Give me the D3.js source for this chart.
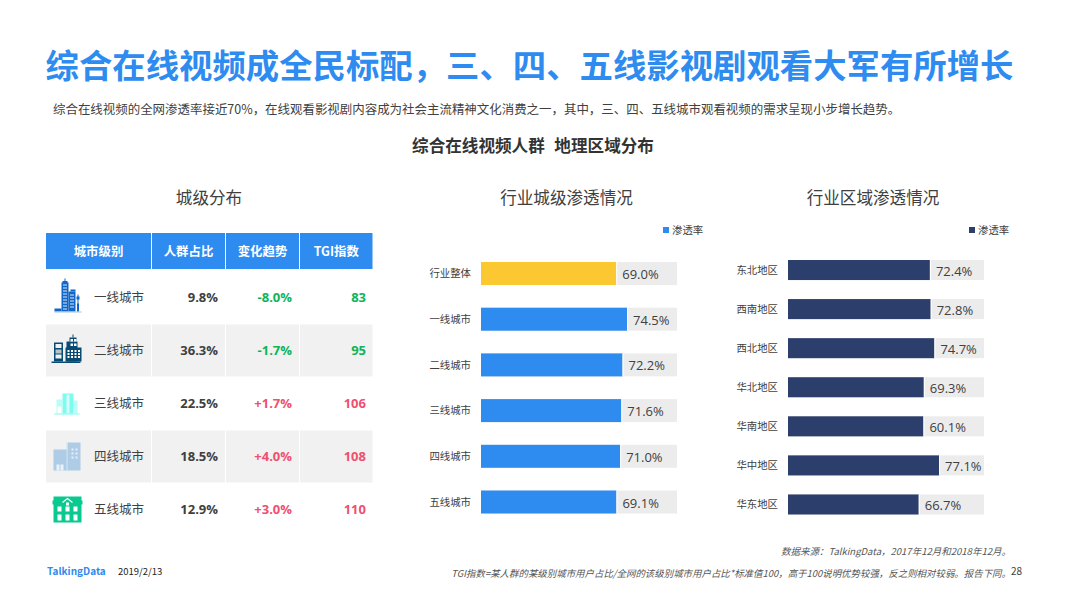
<!DOCTYPE html>
<html>
<head>
<meta charset="utf-8">
<script src="https://cdn.jsdelivr.net/npm/d3@7"></script>
<style>
	html, body { margin: 0; padding: 0; background: #fff; }
	svg { display: block; }
	text { font-family: "Noto Sans CJK SC", "Noto Sans", sans-serif; white-space: pre; }
	.num { font-family: "Open Sans", "Noto Sans", sans-serif; }
	.domain { display: none; }
</style>
</head>
<body>
<div id="chart"></div>
<script>
// table
var tableHeaders = ["城市级别", "人群占比", "变化趋势", "TGI指数"];
var cityLevels = ["一线城市", "二线城市", "三线城市", "四线城市", "五线城市"];
var cityShares = ["9.8%", "36.3%", "22.5%", "18.5%", "12.9%"];
var cityTrends = ["-8.0%", "-1.7%", "+1.7%", "+4.0%", "+3.0%"];
var cityTgi = [83, 95, 106, 108, 110];

// city penetration
var cityBarNames = ["行业整体", "一线城市", "二线城市", "三线城市", "四线城市", "五线城市"];
var cityBarValues = [69.0, 74.5, 72.2, 71.6, 71.0, 69.1];

// region penetration. 华南 is labelled 60.1% in the source but its bar is drawn at about 69
var regionNames = ["东北地区", "西南地区", "西北地区", "华北地区", "华南地区", "华中地区", "华东地区"];
var regionBarValues = [72.4, 72.8, 74.7, 69.3, 69.1, 77.1, 66.7];
var regionLabels = ["72.4%", "72.8%", "74.7%", "69.3%", "60.1%", "77.1%", "66.7%"];

var blue = "#2e8bf0", navy = "#2c3e6b", yellow = "#fbc831";
var green = "#0db45a", red = "#f0506e", dark = "#404040";

var svg = d3.select("#chart").append("svg").attr("width", 1066).attr("height", 599);

function addText(x, y, str, size, color, opts) {
	opts = opts || {};
	return svg.append("text")
		.attr("x", x).attr("y", y)
		.attr("font-size", size)
		.attr("fill", color)
		.attr("text-anchor", opts.anchor || "start")
		.attr("font-weight", opts.weight || 400)
		.attr("font-style", opts.style || "normal")
		.text(str);
}

addText(45.5, 78, "综合在线视频成全民标配，三、四、五线影视剧观看大军有所增长", 33.38, blue, {weight: 700});
addText(53, 114, "综合在线视频的全网渗透率接近70%，在线观看影视剧内容成为社会主流精神文化消费之一，其中，三、四、五线城市观看视频的需求呈现小步增长趋势。", 12.46, dark);
addText(533, 152, "综合在线视频人群  地理区域分布", 16.6, "#333", {anchor: "middle", weight: 700}).style("word-spacing", "1px");
addText(209, 204, "城级分布", 16.6, dark, {anchor: "middle"});
addText(566.5, 204, "行业城级渗透情况", 16.6, dark, {anchor: "middle"});
addText(873, 204, "行业区域渗透情况", 16.6, dark, {anchor: "middle"});

// ---- table ----
var colEdges = [46, 152, 226, 300, 373.5];
var rowY = d3.scaleBand().domain(cityLevels).range([271, 536]);

var header = svg.append("g");
tableHeaders.forEach(function(h, i) {
	header.append("rect")
		.attr("x", colEdges[i]).attr("y", 233)
		.attr("width", colEdges[i + 1] - colEdges[i] - 1).attr("height", 36)
		.attr("fill", blue);
	header.append("text")
		.attr("x", i == 0 ? 98.5 : (colEdges[i] + colEdges[i + 1]) / 2 - 0.5).attr("y", 256)
		.attr("text-anchor", "middle").attr("font-size", 12.4).attr("font-weight", 700)
		.attr("fill", "#fff").text(h);
});

var rows = svg.selectAll("g.row").data(cityLevels).enter().append("g")
	.attr("class", "row")
	.attr("transform", function(d) { return "translate(0," + rowY(d) + ")"; });

rows.filter(function(d, i) { return i % 2 == 1; }).each(function() {
	var g = d3.select(this);
	d3.range(4).forEach(function(i) {
		g.append("rect")
			.attr("x", colEdges[i]).attr("y", 0.5)
			.attr("width", colEdges[i + 1] - colEdges[i] - 1).attr("height", rowY.bandwidth() - 1)
			.attr("fill", "#f1f1f1");
	});
});

var rowMid = rowY.bandwidth() / 2;
rows.append("text").attr("x", 94).attr("y", rowMid + 4.5).attr("font-size", 12.5).attr("fill", dark)
	.text(function(d) { return d; });
rows.append("text").attr("class", "num").attr("x", 218).attr("y", rowMid + 4.5)
	.attr("text-anchor", "end").attr("font-size", 13).attr("font-weight", 700).attr("fill", dark)
	.text(function(d, i) { return cityShares[i]; });
rows.append("text").attr("class", "num").attr("x", 292).attr("y", rowMid + 4.5)
	.attr("text-anchor", "end").attr("font-size", 13).attr("font-weight", 700)
	.attr("fill", function(d, i) { return cityTrends[i][0] == "-" ? green : red; })
	.text(function(d, i) { return cityTrends[i]; });
rows.append("text").attr("class", "num").attr("x", 366).attr("y", rowMid + 4.5)
	.attr("text-anchor", "end").attr("font-size", 13).attr("font-weight", 700)
	.attr("fill", function(d, i) { return cityTgi[i] < 100 ? green : red; })
	.text(function(d, i) { return cityTgi[i]; });

// small building icons, local coords around the icon centre
function box(g, x, y, w, h, c) {
	g.append("rect").attr("x", x).attr("y", y).attr("width", w).attr("height", h).attr("fill", c);
}
function windows(g, xs, ys, w, h, c) {
	xs.forEach(function(x) { ys.forEach(function(y) { box(g, x, y, w, h, c); }); });
}
var iconDraw = [
	function(g) {
		var c = "#1166c8";
		box(g, -6, -15, 7, 29, c); box(g, -3, -19, 1, 4, c); box(g, -5, -16.5, 5, 2, c);
		box(g, 1, -6, 7, 20, c); box(g, 3, -8, 5, 2, c);
		box(g, 10, -3, 1, 17, c); box(g, 9, -1, 3, 3, c); box(g, 9.5, 6, 2, 8, c);
		box(g, -13, 11, 7, 3, c); box(g, -13, 14, 27, 1, "#9cc2ea");
		windows(g, [-4.5], d3.range(-13, 12, 3), 4, 1, "#dcebfa");
		windows(g, [2.5], d3.range(-3, 12, 3), 4, 1, "#dcebfa");
	},
	function(g) {
		var c = "#074b72";
		box(g, -13.5, -8, 9, 19, c); box(g, -12, -6.5, 6, 4, "#f1f1f1"); box(g, -12, -1, 6, 4, "#b9c3c9"); box(g, -12, 4, 6, 4, "#f1f1f1");
		box(g, -1, -9, 11, 20, c); box(g, 2, -13, 7, 4, c); box(g, 5, -16, 1, 3, c); box(g, -2, -3, 16, 14, c);
		box(g, -16, 11, 29, 1.5, c);
		windows(g, [0, 3.5, 7, 10.5], [-0.5, 2.5, 5.5], 2, 2, "#fff");
		windows(g, [3, 6.5], [-11.5, -7], 2.5, 2.5, "#fff");
	},
	function(g) {
		var c = "#7dfbee";
		box(g, -5, -10, 11, 20, c); box(g, -11, -4, 6, 14, "#b9fdf6"); box(g, 6, -3, 4, 13, "#b9fdf6");
		box(g, -1, -9, 3, 19, "#d4fefa"); box(g, -10, 3, 4, 7, "#fff");
		box(g, -13, 10, 25, 1, c);
	},
	function(g) {
		var c = "#aeccE6";
		box(g, -14, -7, 14, 21, c); box(g, 0, -14, 13, 28, c);
		windows(g, [4, 8], [-8, -4, 0], 2, 2, "#e6eff7");
		box(g, -11, 8, 3, 6, "#eaf1f8"); box(g, -7, 8, 3, 6, "#eaf1f8");
		box(g, -1, -14, 1, 28, "#cfe0ef");
	},
	function(g) {
		var c = "#08c98f";
		box(g, -14, -13, 28, 26, c); box(g, -15, -9, 30, 4, c);
		g.append("path").attr("d", "M-5,-7L0,-11L5,-7").attr("fill", "none").attr("stroke", "#fff").attr("stroke-width", 1.2);
		box(g, -1.5, -7, 3, 3, "#fff");
		windows(g, [-10, -2, 6], [-3], 4, 5, "#fff");
		windows(g, [-10, -2, 6], [5], 4, 6, "#fff");
	}
];
rows.append("g")
	.attr("transform", function() { return "translate(67.5," + rowMid + ")"; })
	.each(function(d, i) { iconDraw[i](d3.select(this)); });

// ---- bars ----
function drawBars(opts) {
	var x = d3.scaleLinear().domain([0, 100]).range([opts.left, opts.left + 196]);
	var y = d3.scaleBand().domain(opts.names).range(opts.yRange).paddingInner(opts.padding).paddingOuter(0);
	var g = svg.append("g");

	g.selectAll("rect.bg").data(opts.names).enter().append("rect")
		.attr("class", "bg")
		.attr("x", x(0)).attr("y", function(d) { return y(d); })
		.attr("width", x(100) - x(0)).attr("height", y.bandwidth())
		.attr("fill", "#ececec");
	g.selectAll("rect.bar").data(opts.values).enter().append("rect")
		.attr("class", "bar")
		.attr("x", x(0)).attr("y", function(d, i) { return y(opts.names[i]); })
		.attr("width", function(d) { return x(d) - x(0); }).attr("height", y.bandwidth())
		.attr("fill", function(d, i) { return opts.colors(i); });
	g.selectAll("rect.gap").data(opts.values).enter().append("rect")
		.attr("class", "gap")
		.attr("x", function(d) { return x(d); }).attr("y", function(d, i) { return y(opts.names[i]); })
		.attr("width", 1).attr("height", y.bandwidth())
		.attr("fill", "#fff");
	g.selectAll("text.val").data(opts.values).enter().append("text")
		.attr("class", "val num")
		.attr("x", function(d) { return x(d) + 6; })
		.attr("y", function(d, i) { return y(opts.names[i]) + y.bandwidth() / 2 + 5.5; })
		.attr("font-size", 13).attr("fill", dark)
		.text(function(d, i) { return opts.labels[i]; });

	var axis = g.append("g")
		.attr("transform", "translate(" + (x(0) - 10) + ",0.5)")
		.call(d3.axisLeft(y).tickSize(0).tickPadding(0));
	axis.selectAll("text").attr("font-size", 10.4).attr("fill", dark)
		.style("font-family", '"Noto Sans CJK SC"');

	g.append("rect").attr("x", opts.legendX).attr("y", 227).attr("width", 6).attr("height", 6).attr("fill", opts.legendColor);
	g.append("text").attr("x", opts.legendX + 9).attr("y", 233.5).attr("font-size", 10.4).attr("fill", dark).text("渗透率");
}

drawBars({
	names: cityBarNames, values: cityBarValues,
	labels: cityBarValues.map(function(v) { return v.toFixed(1) + "%"; }),
	left: 481, yRange: [262, 513.5], padding: 0.497,
	colors: function(i) { return i == 0 ? yellow : blue; },
	legendX: 663, legendColor: blue
});
drawBars({
	names: regionNames, values: regionBarValues, labels: regionLabels,
	left: 788, yRange: [260, 514.5], padding: 0.487,
	colors: function() { return navy; },
	legendX: 969, legendColor: navy
});

// ---- footer ----
addText(1011, 555, "数据来源：TalkingData，2017年12月和2018年12月。", 9.52, "#555", {anchor: "end", style: "italic"});
addText(1011, 577, "TGI指数=某人群的某级别城市用户占比/全网的该级别城市用户占比*标准值100，高于100说明优势较强，反之则相对较弱。报告下同。", 9.45, "#555", {anchor: "end", style: "italic"});
addText(1011, 575, "28", 10, dark);
addText(47, 575, "TalkingData", 10, blue, {weight: 700});
addText(118, 575, "2019/2/13", 9.5, "#222");
</script>
</body>
</html>
